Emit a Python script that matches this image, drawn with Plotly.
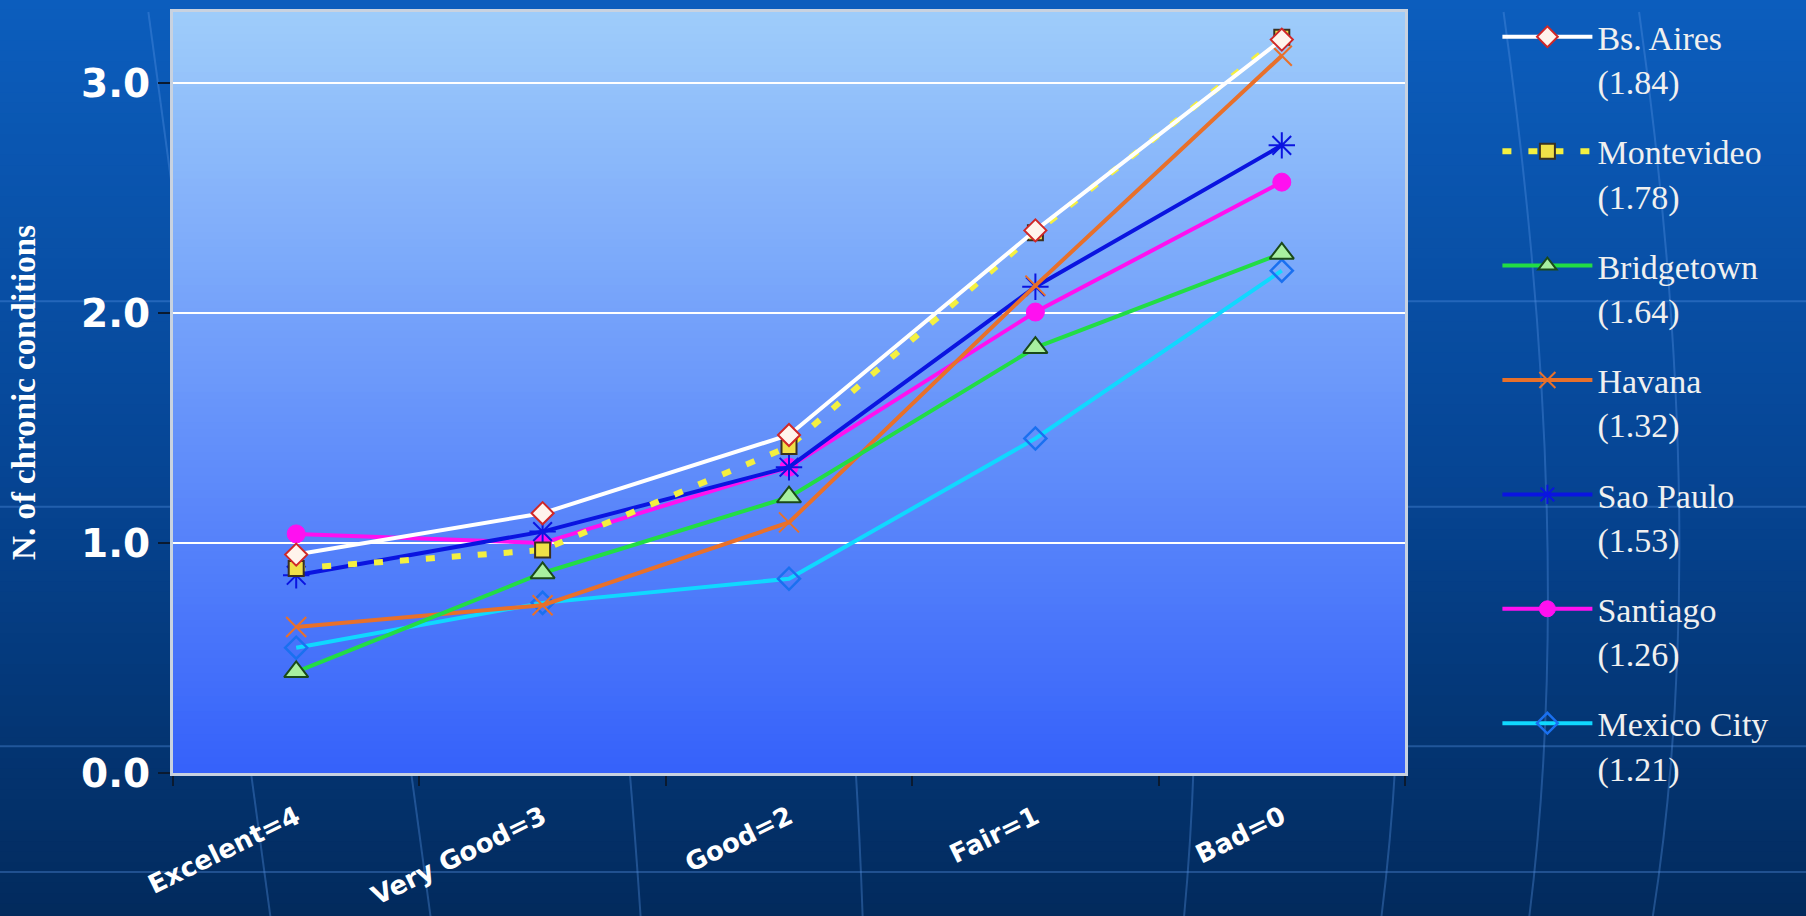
import plotly.graph_objects as go

categories = ["Excelent=4", "Very Good=3", "Good=2", "Fair=1", "Bad=0"]

bs_aires = [0.95, 1.13, 1.47, 2.36, 3.19]
montevideo = [0.89, 0.97, 1.42, 2.35, 3.20]
bridgetown = [0.44, 0.87, 1.20, 1.85, 2.26]
havana = [0.635, 0.73, 1.09, 2.12, 3.12]
sao_paulo = [0.86, 1.05, 1.33, 2.115, 2.73]
santiago = [1.04, 1.00, 1.33, 2.005, 2.57]
mexico_city = [0.545, 0.74, 0.845, 1.455, 2.185]

series_names = ["Bs. Aires<br>(1.84)", "Montevideo<br>(1.78)", "Bridgetown<br>(1.64)",
                "Havana<br>(1.32)", "Sao Paulo<br>(1.53)", "Santiago<br>(1.26)",
                "Mexico City<br>(1.21)"]
series_values = [bs_aires, montevideo, bridgetown, havana, sao_paulo, santiago, mexico_city]

styles = [
    dict(line=dict(color="#ffffff", width=4),
         marker=dict(symbol="diamond", size=17, color="#fff4ec", line=dict(color="#d02828", width=2))),
    dict(line=dict(color="#f4f040", width=6, dash="9px,17px"),
         marker=dict(symbol="square", size=15, color="#f0e048", line=dict(color="#3a3020", width=2))),
    dict(line=dict(color="#22dd44", width=4),
         marker=dict(symbol="triangle-up", size=21, color="#a8f0a0", line=dict(color="#1a4a1a", width=2))),
    dict(line=dict(color="#e8702a", width=4),
         marker=dict(symbol="x-thin-open", size=20, color="#e8702a", line=dict(color="#e8702a", width=2))),
    dict(line=dict(color="#0a14e0", width=4),
         marker=dict(symbol="asterisk-open", size=22, color="#0a14e0", line=dict(color="#0a14e0", width=2))),
    dict(line=dict(color="#ff10f0", width=4),
         marker=dict(symbol="circle", size=18, color="#ff10f0", line=dict(color="#ff10f0", width=1))),
    dict(line=dict(color="#10d8ff", width=4),
         marker=dict(symbol="diamond-open", size=17, color="#1a70f0", line=dict(color="#1a70f0", width=2.5))),
]

fig = go.Figure()
n = len(series_names)
for i in reversed(range(n)):
    fig.add_trace(go.Scatter(
        x=categories, y=series_values[i], name=series_names[i],
        mode="lines+markers", legendgroup=str(i), legendrank=i + 1,
        line=styles[i]["line"], marker=styles[i]["marker"],
    ))


def lerp(c0, c1, t):
    return "rgb(%d,%d,%d)" % tuple(round(a + (b - a) * t) for a, b in zip(c0, c1))


shapes = []
# page background gradient
top_c, mid_c, bot_c = (12, 94, 190), (6, 70, 150), (2, 42, 92)
nb = 90
y_lo, y_hi = -0.2, 1.03
for k in range(nb):
    t = k / (nb - 1)
    c = lerp(top_c, mid_c, t / 0.5) if t < 0.5 else lerp(mid_c, bot_c, (t - 0.5) / 0.5)
    y1 = y_hi - (y_hi - y_lo) * k / nb
    y0 = y_hi - (y_hi - y_lo) * (k + 1) / nb
    shapes.append(dict(type="rect", xref="paper", yref="paper", x0=-0.15, x1=1.34,
                       y0=y0 - 0.001, y1=y1 + 0.001, fillcolor=c, line=dict(width=0), layer="below"))
# faint decorative background lines
for yy in [0.62, 0.35, 0.035, -0.13]:
    shapes.append(dict(type="line", xref="paper", yref="paper", x0=-0.15, x1=1.34, y0=yy, y1=yy,
                       line=dict(color="rgba(90,150,230,0.35)", width=2), layer="below"))
for (xa, xb) in [(0.04, 0.08), (0.17, 0.21), (0.36, 0.38), (0.55, 0.56), (0.85, 0.82),
                 (1.02, 0.98), (1.14, 1.10), (1.25, 1.20)]:
    shapes.append(dict(type="path", xref="paper", yref="paper",
                       path="M %f,%f Q %f,%f %f,%f" % (xa - 0.06, 1.0, xa, 0.3, xb, -0.2),
                       line=dict(color="rgba(90,150,230,0.35)", width=2), layer="below"))
# plot area gradient
p_top, p_bot = (158, 204, 250), (54, 98, 250)
nb2 = 100
for k in range(nb2):
    t = k / (nb2 - 1)
    c = lerp(p_top, p_bot, t)
    y1 = 1 - k / nb2
    y0 = 1 - (k + 1) / nb2
    shapes.append(dict(type="rect", xref="paper", yref="paper", x0=0, x1=1,
                       y0=max(0, y0 - 0.001), y1=min(1, y1 + 0.001), fillcolor=c,
                       line=dict(width=0), layer="below"))

fig.update_layout(
    width=1806, height=916,
    margin=dict(l=173, r=401, t=12, b=143, autoexpand=False),
    paper_bgcolor="#032c5e",
    plot_bgcolor="rgba(0,0,0,0)",
    shapes=shapes,
    showlegend=True,
    legend=dict(
        x=1.075, xanchor="left", y=1.005, yanchor="top",
        bgcolor="rgba(0,0,0,0)", borderwidth=0,
        font=dict(family="Liberation Serif", size=34, color="#f0f0f0"),
        valign="top", tracegroupgap=23, itemwidth=90, maxheight=905,
    ),
    xaxis=dict(
        type="category", range=[-0.5, 4.5], tickson="boundaries", automargin=False,
        ticks="outside", ticklen=10, tickwidth=2, tickcolor="#0a1a30",
        tickangle=-26, ticklabelstandoff=16,
        tickfont=dict(family="DejaVu Sans", size=26, color="#ffffff", weight="bold"),
        showgrid=False, showline=True, linecolor="#c8d2e0", linewidth=3, mirror=True,
    ),
    yaxis=dict(
        range=[0, 3.31], dtick=1, tickformat=".1f", automargin=False,
        ticks="outside", ticklen=12, tickwidth=2, tickcolor="#0a1a30",
        tickfont=dict(family="DejaVu Sans", size=39, color="#ffffff", weight="bold"),
        showgrid=True, gridcolor="#ffffff", gridwidth=2, zeroline=False,
        showline=True, linecolor="#c8d2e0", linewidth=3, mirror=True,
        title=dict(text="N. of chronic conditions", standoff=36,
                   font=dict(family="Liberation Serif", size=33, color="#ffffff", weight="bold")),
    ),
)

fig.write_html("out.html")
